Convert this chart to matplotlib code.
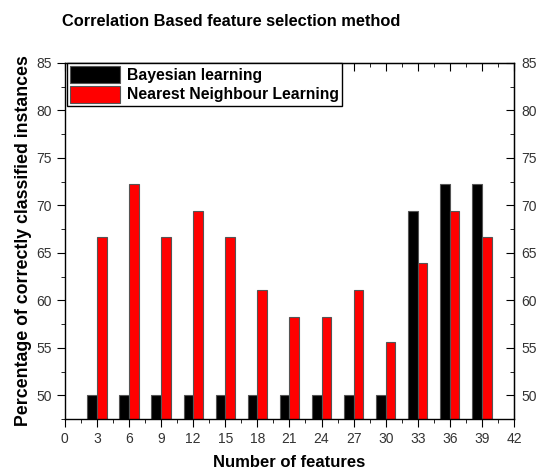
import matplotlib
matplotlib.use('Agg')
import matplotlib.pyplot as plt
import numpy as np
from matplotlib.ticker import MultipleLocator

features = [3, 6, 9, 12, 15, 18, 21, 24, 27, 30, 33, 36, 39]
bayesian = [50.0, 50.0, 50.0, 50.0, 50.0, 50.0, 50.0, 50.0, 50.0, 50.0, 69.4, 72.2, 72.2]
nearest = [66.7, 72.2, 66.7, 69.4, 66.7, 61.1, 58.3, 58.3, 61.1, 55.6, 63.9, 69.4, 66.7]

plt.rcParams['font.family'] = ['Liberation Sans', 'DejaVu Sans']

fig = plt.figure(figsize=(5.36, 4.73), dpi=100)
ax = fig.add_axes([0.121, 0.114, 0.838, 0.753])

x = np.array(features, dtype=float)
width = 0.9
ax.bar(x, bayesian, -width, align='edge', color='black', edgecolor='#555555',
       linewidth=0.8, label='Bayesian learning')
ax.bar(x, nearest, width, align='edge', color='#ff0000', edgecolor='#555555',
       linewidth=0.8, label='Nearest Neighbour Learning')

ax.set_xlim(0, 42)
ax.set_ylim(47.5, 85)
ax.xaxis.set_major_locator(MultipleLocator(3))
ax.xaxis.set_minor_locator(MultipleLocator(1.5))
ax.yaxis.set_major_locator(MultipleLocator(5))
ax.yaxis.set_minor_locator(MultipleLocator(2.5))

ax.tick_params(which='both', direction='out', colors='black', labelcolor='#333333',
               labelsize=10)
ax.tick_params(which='major', length=6)
ax.tick_params(which='minor', length=3)

# top axis: inward ticks, no labels
top = ax.secondary_xaxis('top')
top.xaxis.set_major_locator(MultipleLocator(3))
top.xaxis.set_minor_locator(MultipleLocator(1.5))
top.tick_params(which='both', direction='in', labeltop=False)
top.tick_params(which='major', length=6)
top.tick_params(which='minor', length=3)
top.set_xticklabels([])

# right axis: inward ticks with labels
right = ax.secondary_yaxis('right')
right.yaxis.set_major_locator(MultipleLocator(5))
right.yaxis.set_minor_locator(MultipleLocator(2.5))
right.tick_params(which='both', direction='in', labelcolor='#333333', labelsize=10, pad=5)
right.tick_params(which='major', length=6)
right.tick_params(which='minor', length=3)

for s in ax.spines.values():
    s.set_linewidth(1.0)

ax.set_xlabel('Number of features', fontsize=12, fontweight='bold', labelpad=6)
ax.set_ylabel('Percentage of correctly classified instances', fontsize=12.8,
              fontweight='bold', labelpad=3)
fig.text(0.116, 0.955, 'Correlation Based feature selection method', fontsize=11.8,
         fontweight='bold', ha='left', va='center')

leg = ax.legend(loc='upper left', bbox_to_anchor=(0.005, 1.0), frameon=True, fancybox=False,
                edgecolor='black', framealpha=1, borderpad=0.2, handlelength=3.2,
                handleheight=1.3, handletextpad=0.4, labelspacing=0.15, borderaxespad=0,
                prop={'weight': 'bold', 'size': 11.3})
leg.get_frame().set_linewidth(1.0)

fig.savefig('out.png', dpi=100)
